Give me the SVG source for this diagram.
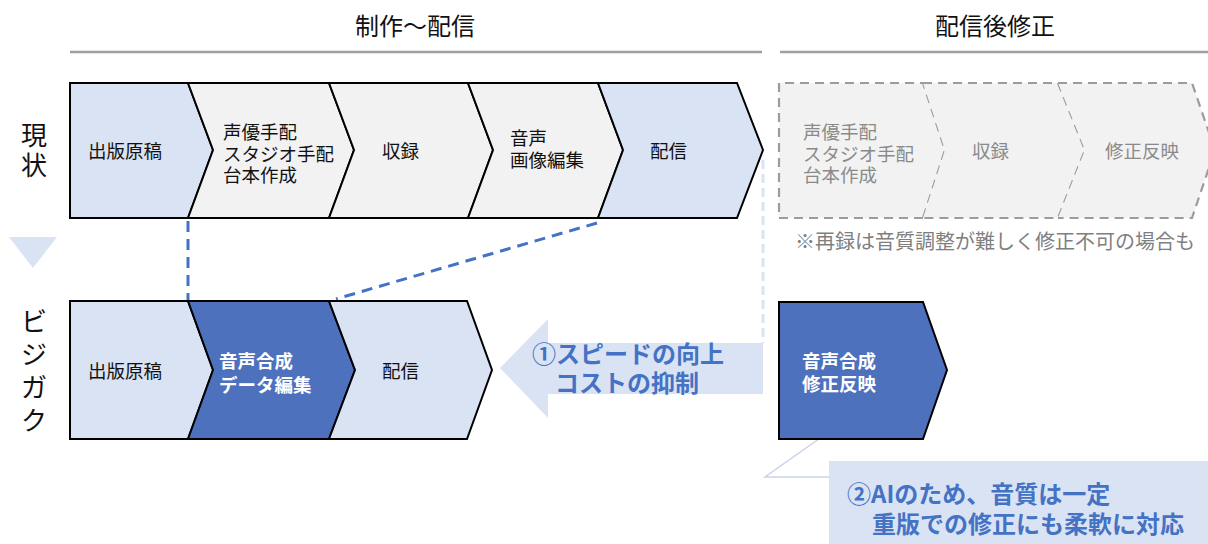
<svg xmlns="http://www.w3.org/2000/svg" width="1208" height="544" viewBox="0 0 1208 544">
<style>
text{font-family:"Noto Sans CJK JP","Noto Sans",sans-serif}
.t{font-size:18.5px;fill:#111}
.g{font-size:18.5px;fill:#8a8a8a}
.w{font-size:18.5px;fill:#fff;font-weight:bold}
.h{font-size:24px;fill:#111}
.v{font-size:26px;fill:#111;text-anchor:middle}
.b{font-size:24px;fill:#4472C4;font-weight:bold}
.lb{fill:#DAE3F3}
.gr{fill:#F2F2F2}
.db{fill:#4E71BE}
.s{stroke:#000;stroke-width:2;stroke-linejoin:miter}
.dash{fill:none;stroke:#9C9C9C;stroke-width:2.2;stroke-dasharray:9,6}
.hl{stroke:#A0A0A0;stroke-width:2.5}
</style>

<g id="headers">
<text class="h" x="355" y="35">制作～配信</text>
<line class="hl" x1="70" y1="52" x2="762" y2="52"/>
<text class="h" x="935" y="35">配信後修正</text>
<line class="hl" x1="780" y1="52" x2="1208" y2="52"/>
</g>

<g id="label-current">
<text class="v" x="34" y="145">現</text>
<text class="v" x="34" y="175">状</text>
</g>
<g id="down-triangle"><path class="lb" d="M9,237 L57,237 L33,268 Z"/></g>
<g id="label-bizigaku">
<text class="v" x="34" y="331">ビ</text>
<text class="v" x="34" y="364">ジ</text>
<text class="v" x="34" y="397">ガ</text>
<text class="v" x="34" y="430">ク</text>
</g>

<g id="connectors">
<line x1="188" y1="221" x2="188" y2="300" stroke="#4472C4" stroke-width="3" stroke-dasharray="11,7"/>
<line x1="597" y1="223" x2="336" y2="299" stroke="#4472C4" stroke-width="3" stroke-dasharray="11,7"/>
<line x1="763" y1="160" x2="763" y2="343" stroke="#DAE3F3" stroke-width="3" stroke-dasharray="9,5"/>
<polyline points="840,424 765,477 829,477" fill="none" stroke="#C9D3EA" stroke-width="1.5"/>
</g>

<g id="cur-1">
<path class="lb s" d="M70,83 L188,83 L213,150 L188,218 L70,218 Z"/>
<text class="t" x="88" y="158">出版原稿</text>
</g>
<g id="cur-2">
<path class="gr s" d="M188,83 L329,83 L354,150 L329,218 L188,218 L213,150 Z"/>
<text class="t" x="223" y="139">声優手配</text>
<text class="t" x="223" y="161">スタジオ手配</text>
<text class="t" x="223" y="182">台本作成</text>
</g>
<g id="cur-3">
<path class="gr s" d="M329,83 L468,83 L493,150 L468,218 L329,218 L354,150 Z"/>
<text class="t" x="382" y="158">収録</text>
</g>
<g id="cur-4">
<path class="gr s" d="M468,83 L598,83 L623,150 L598,218 L468,218 L493,150 Z"/>
<text class="t" x="510" y="145">音声</text>
<text class="t" x="510" y="167">画像編集</text>
</g>
<g id="cur-5">
<path class="lb s" d="M598,83 L737,83 L763,150 L737,218 L598,218 L623,150 Z"/>
<text class="t" x="650" y="158">配信</text>
</g>

<g id="post-1">
<path class="gr" d="M779,83 L923,83 L945,150 L923,218 L779,218 Z"/>
<path class="dash" d="M923,218 L779,218 L779,83 L923,83 L945,150 L923,218"/>
<text class="g" x="803" y="139">声優手配</text>
<text class="g" x="803" y="161">スタジオ手配</text>
<text class="g" x="803" y="182">台本作成</text>
</g>
<g id="post-2">
<path class="gr" d="M923,83 L1058,83 L1085,150 L1058,218 L923,218 L945,150 Z"/>
<path class="dash" d="M923,83 L1058,83 L1085,150 L1058,218 L923,218"/>
<text class="g" x="972" y="158">収録</text>
</g>
<g id="post-3">
<path class="gr" d="M1058,83 L1192,83 L1215,150 L1192,218 L1058,218 L1085,150 Z"/>
<path class="dash" d="M1058,83 L1192,83 L1215,150 L1192,218 L1058,218"/>
<text class="g" x="1105" y="158">修正反映</text>
</g>
<g id="note">
<text x="795" y="249" style="font-size:20px;fill:#7F7F7F">※再録は音質調整が難しく修正不可の場合も</text>
</g>

<g id="new-1">
<path class="lb s" d="M70,301 L188,301 L213,370 L188,439 L70,439 Z"/>
<text class="t" x="88" y="378">出版原稿</text>
</g>
<g id="new-2">
<path class="db s" d="M188,301 L329,301 L355,370 L329,439 L188,439 L213,370 Z"/>
<text class="w" x="219" y="368">音声合成</text>
<text class="w" x="219" y="392">データ編集</text>
</g>
<g id="new-3">
<path class="lb s" d="M329,301 L467,301 L492,370 L467,439 L329,439 L355,370 Z"/>
<text class="t" x="382" y="378">配信</text>
</g>

<g id="benefit-arrow">
<path class="lb" d="M500,368 L548,319 L548,343 L763,343 L763,394 L548,394 L548,418 Z"/>
<text class="b" x="532" y="363">①スピードの向上</text>
<text class="b" x="555" y="392">コストの抑制</text>
</g>

<g id="new-fix">
<path class="db s" d="M779,302 L923,302 L947,370 L923,439 L779,439 Z"/>
<text class="w" x="802" y="368">音声合成</text>
<text class="w" x="802" y="391">修正反映</text>
</g>

<g id="callout">
<rect class="lb" x="829" y="461" width="379" height="83"/>
<text class="b" x="847" y="503">②AIのため、音質は一定</text>
<text class="b" x="872" y="533">重版での修正にも柔軟に対応</text>
</g>
</svg>
